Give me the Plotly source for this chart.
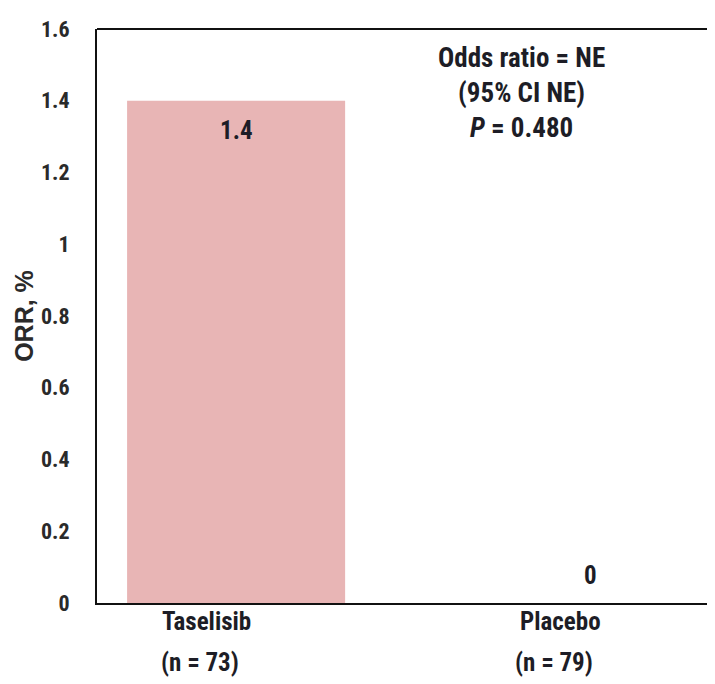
import plotly.graph_objects as go

categories = ["Taselisib", "Placebo"]
n_labels = ["(n = 73)", "(n = 79)"]
orr_values = [1.4, 0.0]
value_labels = ["1.4", "0"]
y_ticks = [0, 0.2, 0.4, 0.6, 0.8, 1.0, 1.2, 1.4, 1.6]
y_tick_text = ["0", "0.2", "0.4", "0.6", "0.8", "1", "1.2", "1.4", "1.6"]
stats_lines = ["Odds ratio = NE", "(95% CI NE)", "<i>P</i> = 0.480"]

narrow = "Roboto Condensed, Liberation Sans Narrow, Arial Narrow, sans-serif"
txt_color = "#1d1d26"
bar_color = "#E8B5B5"

fig = go.Figure()
fig.add_trace(go.Bar(
    x=[0, 1], y=orr_values, width=0.616,
    marker=dict(color=bar_color, line=dict(width=0)),
    hoverinfo="skip", showlegend=False,
))

# value labels
shifts = [-30, 28]
for i, (v, t) in enumerate(zip(orr_values, value_labels)):
    fig.add_annotation(x=i, y=v, text=f"<b>{t}</b>", showarrow=False, yshift=shifts[i],
                       font=dict(family=narrow, size=25, color=txt_color))

# category labels (two lines, wide spacing)
for i, (c, n) in enumerate(zip(categories, n_labels)):
    fig.add_annotation(x=i, y=0, yref="paper", text=f"<b>{c}</b>", showarrow=False,
                       xshift=-30, yshift=-18, yanchor="middle",
                       font=dict(family=narrow, size=25, color=txt_color))
    fig.add_annotation(x=i, y=0, yref="paper", text=f"<b>{n}</b>", showarrow=False,
                       xshift=-36, yshift=-59, yanchor="middle",
                       font=dict(family=narrow, size=25, color=txt_color))

# stats text
fig.add_annotation(x=0.805, y=1.421, xref="x", yref="y",
                   text="<br>".join(f"<b>{s}</b>" for s in stats_lines),
                   showarrow=False, align="center", yanchor="middle",
                   font=dict(family=narrow, size=27, color=txt_color))

# top border line
fig.add_shape(type="line", xref="paper", yref="paper", x0=0, x1=1, y0=1, y1=1,
              line=dict(color="#111", width=2))

fig.update_layout(
    width=707, height=676,
    margin=dict(l=89, r=0, t=21, b=81),
    plot_bgcolor="white", paper_bgcolor="white",
    xaxis=dict(
        range=[-0.393, 1.353],
        tickvals=[0, 1],
        showticklabels=False,
        showline=True, linecolor="#111", linewidth=2,
        showgrid=False, zeroline=False, ticks="",
    ),
    yaxis=dict(
        range=[0, 1.6],
        tickvals=y_ticks,
        ticktext=[f"<b>{t}</b>" for t in y_tick_text],
        showline=True, linecolor="#111", linewidth=2,
        showgrid=False, zeroline=False, ticks="",
        ticklabelstandoff=21,
        tickfont=dict(family=narrow, size=22, color="#2a2a2a"),
        title=dict(text="<b>ORR, %</b>", standoff=0,
                   font=dict(family="Liberation Sans, Arial, sans-serif", size=25, color="#2a2a2a")),
    ),
)

fig.write_html("out.html")
